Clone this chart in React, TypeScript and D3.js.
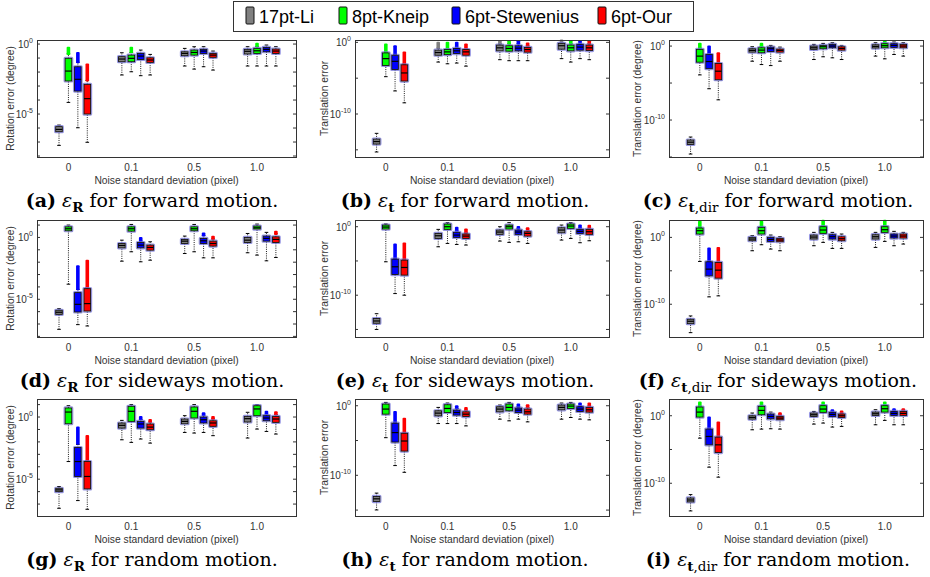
import React from "react";
import * as d3 from "d3";

const noiseLevels = ["0", "0.1", "0.5", "1.0"];
const methods = ["17pt-Li", "8pt-Kneip", "6pt-Stewenius", "6pt-Our"];
const methodColors = ["#808080", "#00ff00", "#0000ff", "#ff0000"];

// one row per box, noise level major, method minor
// [lower whisker, q1, median, q3, upper whisker, outliers low, outliers high], all as log10(error)
const rotForward = [
  [-7.24, -6.26, -6.1, -5.9, -5.79, null, null],
  [-4.17, -2.64, -1.93, -1.02, -0.7, -0.67, -0.3],
  [-5.98, -3.36, -2.52, -1.62, -1.3, -1.26, -0.67],
  [-7.02, -5.0, -3.9, -2.88, -2.6, -2.57, -1.5],
  [-2.21, -1.26, -1.07, -0.9, -0.62, null, null],
  [-1.98, -1.26, -1.02, -0.79, -0.6, -0.55, -0.3],
  [-2.26, -1.1, -0.86, -0.67, -0.43, null, null],
  [-2.21, -1.31, -1.14, -0.98, -0.74, null, null],
  [-1.57, -0.83, -0.67, -0.55, -0.31, null, null],
  [-1.79, -0.79, -0.6, -0.43, -0.19, null, null],
  [-1.62, -0.67, -0.5, -0.38, -0.19, null, null],
  [-1.86, -0.95, -0.79, -0.67, -0.5, null, null],
  [-1.57, -0.71, -0.52, -0.38, -0.19, null, null],
  [-1.57, -0.67, -0.48, -0.31, -0.19, -0.12, -0.02],
  [-1.57, -0.55, -0.38, -0.24, -0.07, null, null],
  [-1.57, -0.67, -0.5, -0.36, -0.19, null, null],
];
const transForward = [
  [-15.3, -14.2, -13.84, -13.5, -12.7, null, null],
  [-4.79, -3.22, -2.27, -1.47, -1.4, -1.33, -0.38],
  [-6.78, -3.79, -2.65, -1.8, -1.7, -1.56, -0.62],
  [-8.44, -5.4, -4.27, -3.13, -3.0, -2.99, -1.47],
  [-2.75, -1.8, -1.42, -1.09, -0.8, -0.62, -0.14],
  [-2.99, -1.71, -1.33, -1.0, -0.9, -0.85, -0.14],
  [-2.89, -1.56, -1.18, -0.85, -0.8, -0.76, -0.14],
  [-3.32, -1.8, -1.33, -1.0, -0.97, -0.95, -0.38],
  [-2.42, -1.18, -0.76, -0.38, -0.2, -0.14, 0.09],
  [-2.56, -1.23, -0.85, -0.47, -0.2, -0.14, 0.09],
  [-2.56, -1.18, -0.81, -0.47, -0.2, -0.14, 0.09],
  [-2.56, -1.37, -1.0, -0.71, -0.5, -0.47, -0.24],
  [-2.27, -0.95, -0.47, -0.14, -0.05, 0, 0.19],
  [-2.75, -1.18, -0.76, -0.38, -0.2, -0.14, 0.09],
  [-2.27, -1.09, -0.66, -0.28, -0.2, -0.14, 0.09],
  [-2.42, -1.14, -0.76, -0.38, -0.2, -0.14, 0.09],
];
const dirForward = [
  [-14.6, -13.3, -13.0, -12.7, -12.3, null, null],
  [-3.9, -2.18, -1.36, -0.45, -0.3, -0.23, 0.23],
  [-5.77, -3.05, -2.09, -1.14, -1.0, -0.9, -0.14],
  [-7.27, -4.55, -3.4, -2.36, -2.3, -2.27, -1.05],
  [-2.05, -0.82, -0.59, -0.36, -0.09, null, null],
  [-2.5, -0.9, -0.55, -0.23, -0.05, 0, 0.23],
  [-2.64, -0.73, -0.36, -0.14, 0.09, null, null],
  [-2.05, -0.82, -0.59, -0.41, -0.14, null, null],
  [-1.82, -0.45, -0.23, 0, 0.23, null, null],
  [-1.45, -0.36, -0.09, 0.09, 0.36, null, null],
  [-1.59, -0.23, 0, 0.23, 0.45, null, null],
  [-1.82, -0.55, -0.32, -0.09, 0.09, null, null],
  [-1.36, -0.27, -0.05, 0.18, 0.45, null, null],
  [-1.73, -0.23, 0.05, 0.32, 0.36, 0.36, 0.55],
  [-1.14, -0.18, 0.09, 0.32, 0.55, null, null],
  [-1.36, -0.23, 0, 0.23, 0.45, null, null],
];
const rotSideways = [
  [-7.43, -6.22, -6.05, -5.89, -5.76, null, null],
  [-3.78, 0.54, 0.7, 0.86, 1.0, null, null],
  [-7.05, -6.03, -5.41, -4.46, -4.2, -4.14, -2.38],
  [-7.16, -5.95, -5.35, -4.14, -4.05, -4.0, -1.92],
  [-1.92, -0.84, -0.65, -0.49, -0.22, null, null],
  [-1.16, 0.51, 0.7, 0.86, 1.05, null, null],
  [-1.97, -0.84, -0.62, -0.41, -0.3, -0.22, -0.08],
  [-1.84, -1.03, -0.81, -0.62, -0.35, null, null],
  [-1.3, -0.49, -0.3, -0.16, 0.11, null, null],
  [-1.16, 0.54, 0.7, 0.86, 1.05, null, null],
  [-1.65, -0.49, -0.27, -0.08, 0.15, 0.19, 0.27],
  [-1.65, -0.7, -0.49, -0.3, -0.12, -0.08, 0.02],
  [-1.24, -0.41, -0.22, 0, 0.32, null, null],
  [-1.43, 0.68, 0.78, 0.92, 1.08, null, null],
  [-1.89, -0.3, -0.08, 0.11, 0.41, null, null],
  [-1.62, -0.41, -0.16, 0.05, 0.3, 0.32, 0.41],
];
const transSideways = [
  [-15.0, -14.1, -13.76, -13.4, -12.7, null, null],
  [-5.12, -0.34, -0.05, 0.24, 0.4, null, null],
  [-9.76, -6.98, -5.85, -4.73, -4.7, -4.63, -2.68],
  [-10.0, -7.07, -5.95, -4.88, -4.8, -4.78, -2.54],
  [-2.93, -1.71, -1.32, -0.98, -0.39, null, null],
  [-2.44, -0.39, 0, 0.39, 0.59, null, null],
  [-2.59, -1.56, -1.22, -0.83, -0.65, -0.59, -0.24],
  [-2.68, -1.71, -1.37, -1.07, -0.9, -0.83, -0.49],
  [-2.1, -1.12, -0.78, -0.49, 0, null, null],
  [-2.29, -0.34, 0, 0.24, 0.59, null, null],
  [-2.2, -1.12, -0.78, -0.49, -0.3, -0.24, -0.1],
  [-2.44, -1.37, -0.98, -0.73, -0.55, -0.49, -0.3],
  [-1.95, -0.88, -0.49, -0.15, 0.24, null, null],
  [-1.71, -0.24, 0.1, 0.39, 0.59, null, null],
  [-2.34, -0.98, -0.68, -0.39, -0.2, -0.1, 0.1],
  [-2.05, -1.12, -0.73, -0.39, -0.25, -0.15, 0.05],
];
const dirSideways = [
  [-14.25, -12.9, -12.55, -12.25, -11.75, null, null],
  [-3.6, 0.5, 1.0, 1.4, 1.45, 1.5, 2.25],
  [-8.9, -5.75, -4.75, -3.65, -3.6, -3.5, -1.75],
  [-8.75, -6.1, -4.9, -3.75, -3.7, -3.65, -1.65],
  [-2.0, -0.5, -0.25, 0, 0.25, null, null],
  [-1.1, 0.5, 1.0, 1.5, 1.6, 1.75, 2.25],
  [-1.75, -0.6, -0.3, 0, 0.35, null, null],
  [-2.0, -0.65, -0.4, -0.15, 0.1, null, null],
  [-1.25, -0.25, 0.05, 0.35, 0.75, null, null],
  [-0.75, 0.6, 1.1, 1.6, 1.7, 1.75, 2.4],
  [-1.65, -0.25, 0.1, 0.4, 0.75, null, null],
  [-1.65, -0.5, -0.2, 0.1, 0.5, null, null],
  [-1.5, -0.25, 0.1, 0.4, 0.75, null, null],
  [-0.6, 0.75, 1.15, 1.6, 1.7, 1.75, 2.4],
  [-1.25, -0.1, 0.2, 0.5, 0.9, null, null],
  [-1.0, -0.1, 0.2, 0.5, 0.75, null, null],
];
const rotRandom = [
  [-7.34, -6.0, -5.86, -5.73, -5.59, null, null],
  [-3.58, -0.54, 0.4, 0.73, 0.91, null, null],
  [-6.72, -4.78, -3.58, -2.45, -2.2, -2.1, -0.89],
  [-7.42, -5.78, -4.78, -3.58, -3.5, -3.44, -1.56],
  [-1.83, -0.89, -0.67, -0.48, -0.27, null, null],
  [-2.04, -0.35, 0.46, 0.86, 1.0, null, null],
  [-1.77, -0.89, -0.56, -0.35, -0.2, -0.13, -0.03],
  [-2.1, -1.02, -0.81, -0.56, -0.4, -0.35, -0.27],
  [-1.24, -0.54, -0.35, -0.16, 0.11, null, null],
  [-1.29, -0.08, 0.46, 0.81, 1.0, null, null],
  [-1.24, -0.48, -0.22, 0, 0.15, 0.19, 0.27],
  [-1.5, -0.75, -0.48, -0.3, -0.15, -0.11, -0.03],
  [-1.69, -0.4, -0.13, 0.05, 0.38, null, null],
  [-0.97, 0.11, 0.65, 0.91, 1.0, null, null],
  [-1.16, -0.3, -0.08, 0.11, 0.22, 0.27, 0.38],
  [-1.37, -0.43, -0.16, 0.05, 0.2, 0.24, 0.35],
];
const transRandom = [
  [-14.98, -13.77, -13.38, -13.04, -12.56, null, null],
  [-4.59, -1.21, -0.48, 0.24, 0.48, null, null],
  [-8.6, -5.22, -3.86, -2.51, -2.45, -2.42, -0.97],
  [-9.57, -6.52, -5.07, -3.96, -3.9, -3.86, -1.93],
  [-2.56, -1.45, -1.06, -0.72, -0.24, null, null],
  [-2.56, -0.97, -0.39, 0.15, 0.39, null, null],
  [-2.56, -1.35, -0.97, -0.63, -0.4, -0.34, -0.14],
  [-2.9, -1.55, -1.21, -0.87, -0.65, -0.58, -0.39],
  [-1.93, -0.87, -0.48, -0.14, 0.1, null, null],
  [-2.17, -0.72, -0.24, 0.24, 0.48, null, null],
  [-1.93, -0.97, -0.63, -0.34, -0.15, -0.1, 0.1],
  [-2.32, -1.21, -0.87, -0.48, -0.25, -0.19, 0],
  [-1.93, -0.58, -0.24, 0.1, 0.39, null, null],
  [-1.69, -0.39, -0.05, 0.24, 0.48, null, null],
  [-1.93, -0.82, -0.48, -0.14, -0.05, 0, 0.24],
  [-2.03, -0.92, -0.58, -0.24, -0.05, 0, 0.24],
];
const dirRandom = [
  [-14.1, -12.77, -12.48, -12.18, -11.68, null, null],
  [-3.32, -0.2, 0.54, 1.29, 1.4, 1.49, 1.88],
  [-7.62, -4.31, -3.07, -1.98, -1.9, -1.83, -0.35],
  [-9.1, -5.45, -4.31, -3.17, -3.1, -3.07, -1.09],
  [-2.08, -0.5, -0.25, 0, 0.4, null, null],
  [-1.98, 0.15, 0.79, 1.39, 1.5, 1.58, 1.88],
  [-1.93, -0.45, -0.1, 0.25, 0.54, null, null],
  [-1.98, -0.59, -0.35, -0.1, 0.1, 0.15, 0.3],
  [-1.24, -0.1, 0.15, 0.4, 0.64, null, null],
  [-1.09, 0.5, 0.99, 1.49, 1.55, 1.58, 1.88],
  [-1.68, -0.1, 0.2, 0.5, 0.6, 0.64, 0.74],
  [-1.58, -0.25, 0, 0.25, 0.35, 0.4, 0.54],
  [-1.34, 0.05, 0.3, 0.54, 0.89, null, null],
  [-0.69, 0.54, 1.04, 1.49, 1.55, 1.58, 1.88],
  [-1.34, 0.05, 0.35, 0.64, 0.7, 0.74, 0.89],
  [-1.34, 0.05, 0.35, 0.64, 0.7, 0.74, 0.89],
];

const yLabels = ["Rotation error (degree)", "Translation error", "Translation error (degree)"];
const motions = ["forward", "sideways", "random"];
const tickLabelExps = [[0, -5], [0, -10], [0, -10]];

// layout
const cols = [
  { left: 37, right: 296, yLabelX: 10, capX: 152 },
  { left: 355, right: 609, yLabelX: 324, capX: 465 },
  { left: 669, right: 923, yLabelX: 637, capX: 778 },
];
const rowTops = [40, 220, 399];
const plotH = 117;
const SANS = "'Liberation Sans', Arial, sans-serif";
const SERIF = "'DejaVu Serif', serif";

const panels = [
  { data: rotForward, dom: [-8.07, 0.29] },
  { data: transForward, dom: [-16.0, 0.33] },
  { data: dirForward, dom: [-15.0, 0.82] },
  { data: rotSideways, dom: [-8.05, 1.41] },
  { data: transSideways, dom: [-16.1, 0.98] },
  { data: dirSideways, dom: [-14.9, 2.6] },
  { data: rotRandom, dom: [-7.96, 1.45] },
  { data: transRandom, dom: [-15.85, 0.97] },
  { data: dirRandom, dom: [-14.85, 2.48] },
];

const Caption = ({ x, y, idx, col, motion }) => {
  const letter = "abcdefghi"[idx];
  return (
    <text x={x} y={y} textAnchor="middle" fontFamily={SERIF} fontSize={19} fill="#000">
      <tspan fontWeight="bold">({letter})</tspan>
      <tspan> </tspan>
      <tspan fontStyle="italic">ε</tspan>
      {col === 0 && <tspan fontWeight="bold" fontSize={13.5} dy={4.5}>R</tspan>}
      {col === 1 && <tspan fontWeight="bold" fontSize={13.5} dy={4.5}>t</tspan>}
      {col === 2 && <tspan fontWeight="bold" fontSize={13.5} dy={4.5}>t</tspan>}
      {col === 2 && <tspan fontSize={13.5}>,dir</tspan>}
      <tspan dy={-4.5}>{` for ${motion} motion.`}</tspan>
    </text>
  );
};

const Panel = ({ idx }) => {
  const col = idx % 3;
  const row = Math.floor(idx / 3);
  const { left, right, yLabelX, capX } = cols[col];
  const top = rowTops[row];
  const bottom = top + plotH;
  const { data, dom } = panels[idx];

  const x = d3.scaleLinear().domain([-0.5, 3.62]).range([left, right]);
  const y = d3.scaleLog().domain([10 ** dom[0], 10 ** dom[1]]).range([bottom, top]);
  const Y = (e) => y(10 ** e);

  const step = col === 0 ? 1 : 5;
  const ticks = d3.range(Math.ceil(dom[0] / step) * step, dom[1], step);

  const bw = 6.6;
  return (
    <g>
      {/* boxes */}
      {data.map((b, i) => {
        const g = Math.floor(i / 4);
        const m = i % 4;
        const cx = x(g + (m - 1) * 0.15);
        const [wl, q1, med, q3, wh, oLo, oHi] = b;
        return (
          <g key={i}>
            <line x1={cx} x2={cx} y1={Y(wl)} y2={Y(q1)} stroke="#000" strokeWidth={0.9} strokeDasharray="1 1.2" />
            <line x1={cx} x2={cx} y1={Y(q3)} y2={Y(wh)} stroke="#000" strokeWidth={0.9} strokeDasharray="1 1.2" />
            <line x1={cx - 1.8} x2={cx + 1.8} y1={Y(wl)} y2={Y(wl)} stroke="#000" strokeWidth={1} />
            <line x1={cx - 1.8} x2={cx + 1.8} y1={Y(wh)} y2={Y(wh)} stroke="#000" strokeWidth={1} />
            {oLo !== null && (
              <rect x={cx - 1.8} width={3.6} y={Y(oHi) - 1.5} height={Math.max(Y(oLo) - Y(oHi) + 3, 3)}
                fill={methodColors[m]} rx={1} />
            )}
            <rect x={cx - bw / 2 - 1} width={bw + 2} y={Y(q3) - 1} height={Y(q1) - Y(q3) + 2}
              fill="none" stroke="#7474d8" strokeWidth={1.2} opacity={0.75} rx={1} />
            <rect x={cx - bw / 2} width={bw} y={Y(q3)} height={Math.max(Y(q1) - Y(q3), 2)}
              fill={methodColors[m]} stroke="#111" strokeWidth={0.9} />
            <line x1={cx - bw / 2} x2={cx + bw / 2} y1={Y(med)} y2={Y(med)} stroke="#000" strokeWidth={1.2} />
          </g>
        );
      })}
      {/* frame */}
      <rect x={left + 0.5} y={top + 0.5} width={right - left} height={plotH} fill="none" stroke="#333" strokeWidth={1} />
      {ticks.map((t) => (
        <g key={t}>
          <line x1={left} x2={left + 3} y1={Y(t)} y2={Y(t)} stroke="#333" strokeWidth={1} />
          <line x1={right - 3} x2={right} y1={Y(t)} y2={Y(t)} stroke="#333" strokeWidth={1} />
        </g>
      ))}
      {tickLabelExps[col].map((e) => (
        <text key={e} x={left - 4} y={Y(e) + 4} textAnchor="end" fontFamily={SANS} fontSize={10} fill="#333">
          10<tspan dy={-5} fontSize={7}>{e}</tspan>
        </text>
      ))}
      {noiseLevels.map((n, g) => (
        <text key={n} x={x(g)} y={bottom + 14} textAnchor="middle" fontFamily={SANS} fontSize={10} fill="#333">
          {n}
        </text>
      ))}
      <text x={(left + right) / 2} y={bottom + 27} textAnchor="middle" fontFamily={SANS} fontSize={10.3} fill="#333">
        Noise standard deviation (pixel)
      </text>
      <text transform={`translate(${yLabelX},${(top + bottom) / 2}) rotate(-90)`} textAnchor="middle" dy="0.35em"
        fontFamily={SANS} fontSize={10.3} fill="#333">
        {yLabels[col]}
      </text>
      <Caption x={capX} y={bottom + 50} idx={idx} col={col} motion={motions[row]} />
    </g>
  );
};

const legendX = [246, 339, 452, 598];

const App = () => (
  <svg width={930} height={577} style={{ position: "absolute", left: 0, top: 0, background: "#fff" }}>
    <rect x={233.5} y={1.5} width={460} height={30} fill="#fff" stroke="#333" strokeWidth={1} />
    {methods.map((name, i) => (
      <g key={name}>
        <rect x={legendX[i]} y={7} width={8} height={17} rx={1} fill={methodColors[i]} stroke="#111" strokeWidth={1} />
        <text x={legendX[i] + 13} y={22.5} fontFamily={SANS} fontSize={18} fill="#000">{name}</text>
      </g>
    ))}
    {panels.map((_, i) => <Panel key={i} idx={i} />)}
  </svg>
);

export default App;
